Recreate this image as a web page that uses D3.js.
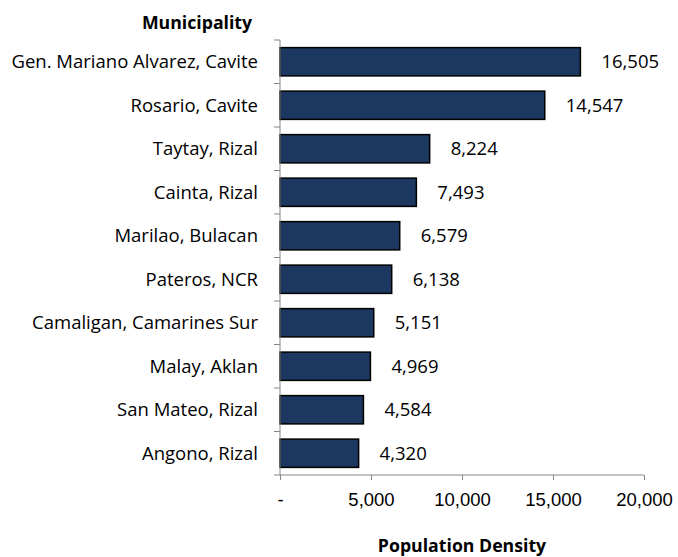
<!DOCTYPE html>
<html>
<head>
<meta charset="utf-8">
<script src="https://cdn.jsdelivr.net/npm/d3@7"></script>
<style>
  body { margin: 0; background: #fff; }
  svg { font-family: "Open Sans", sans-serif; }
  .axis path, .axis line { stroke: #868686; }
  .axis text { font-size: 18.5px; fill: #000; }
</style>
</head>
<body>
<div id="chart"></div>
<script>
const municipalities = [
  'Gen. Mariano Alvarez, Cavite', 'Rosario, Cavite', 'Taytay, Rizal', 'Cainta, Rizal',
  'Marilao, Bulacan', 'Pateros, NCR', 'Camaligan, Camarines Sur', 'Malay, Aklan',
  'San Mateo, Rizal', 'Angono, Rizal'
]
const densities = [16505, 14547, 8224, 7493, 6579, 6138, 5151, 4969, 4584, 4320]
const xTicks = [0, 5000, 10000, 15000, 20000]

const width = 678
const height = 557
const margin = { top: 40, right: 34, bottom: 82, left: 280 }

const fmt = d3.format(',')

const x = d3.scaleLinear()
  .domain([0, 20000])
  .range([margin.left, width - margin.right])

const y = d3.scaleBand()
  .domain(municipalities)
  .range([margin.top, height - margin.bottom])
  .paddingInner(0.35)
  .paddingOuter(0.175)

const svg = d3.select('#chart')
  .append('svg')
  .attr('width', width)
  .attr('height', height)

// bars
svg.append('g')
  .selectAll('rect')
  .data(densities)
  .join('rect')
  .attr('x', x(0))
  .attr('y', (d, i) => y(municipalities[i]))
  .attr('width', d => x(d) - x(0))
  .attr('height', y.bandwidth())
  .attr('fill', '#1c3760')
  .attr('stroke', '#000')
  .attr('stroke-width', 1.5)

// value labels
svg.append('g')
  .selectAll('text')
  .data(densities)
  .join('text')
  .attr('x', d => x(d) + 21)
  .attr('y', (d, i) => y(municipalities[i]) + y.bandwidth() / 2)
  .attr('dy', '0.35em')
  .attr('font-size', 18.5)
  .text(d => fmt(d))

// y axis: ticks between categories
const yAxisG = svg.append('g')
  .attr('class', 'axis')
  .attr('transform', `translate(${margin.left},0)`)

yAxisG.append('line')
  .attr('y1', margin.top)
  .attr('y2', height - margin.bottom)

const rowH = (height - margin.top - margin.bottom) / municipalities.length
yAxisG.selectAll('.sep')
  .data(d3.range(municipalities.length + 1))
  .join('line')
  .attr('x1', -6)
  .attr('x2', 0)
  .attr('y1', i => margin.top + i * rowH)
  .attr('y2', i => margin.top + i * rowH)

yAxisG.selectAll('.lbl')
  .data(municipalities)
  .join('text')
  .attr('x', -22)
  .attr('y', d => y(d) + y.bandwidth() / 2)
  .attr('dy', '0.35em')
  .attr('text-anchor', 'end')
  .text(d => d)

// x axis
const xAxis = d3.axisBottom(x)
  .tickValues(xTicks)
  .tickSize(5)
  .tickPadding(13)
  .tickFormat(d => d === 0 ? '-' : fmt(d))

svg.append('g')
  .attr('class', 'axis')
  .attr('transform', `translate(0,${height - margin.bottom})`)
  .call(xAxis)
  .call(g => g.select('.domain').attr('d', `M${x(0)},0H${x(20000)}`))

// axis titles
svg.append('text')
  .attr('x', 197)
  .attr('y', 23)
  .attr('dy', '0.35em')
  .attr('text-anchor', 'middle')
  .attr('font-size', 17.7)
  .attr('font-weight', 'bold')
  .text('Municipality')

svg.append('text')
  .attr('x', (x(0) + x(20000)) / 2)
  .attr('y', 546)
  .attr('dy', '0.35em')
  .attr('text-anchor', 'middle')
  .attr('font-size', 17.7)
  .attr('font-weight', 'bold')
  .text('Population Density')
</script>
</body>
</html>
